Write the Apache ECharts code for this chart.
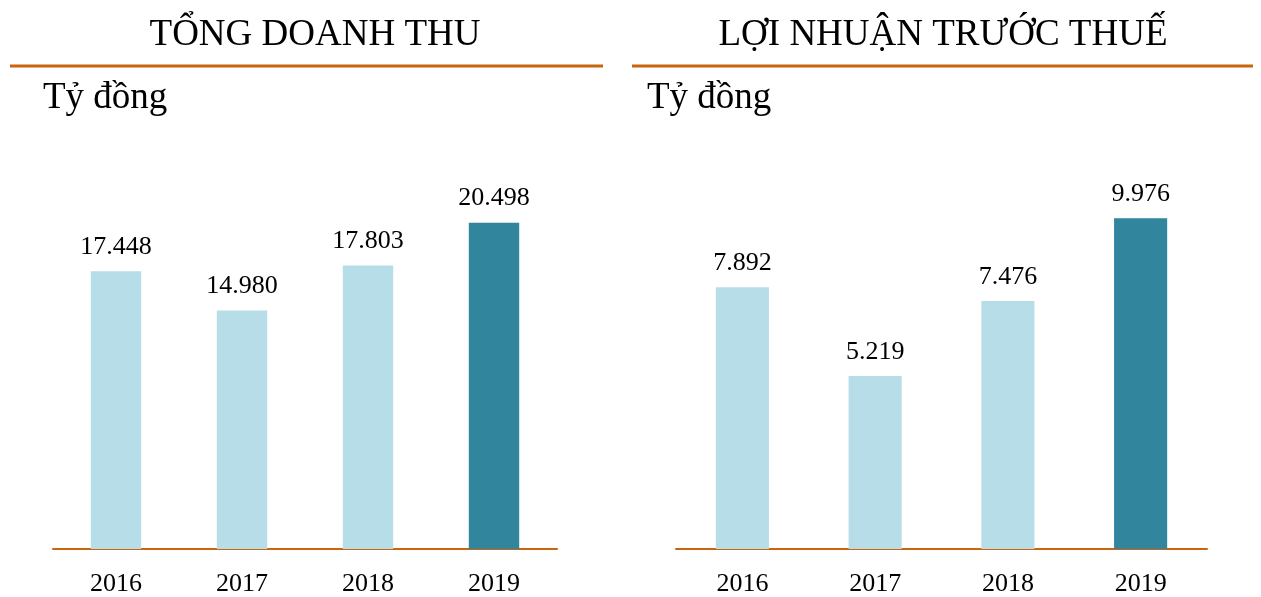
<!DOCTYPE html>
<html>
<head>
<meta charset="utf-8">
<script src="https://cdn.jsdelivr.net/npm/echarts@6/dist/echarts.min.js"></script>
<style>
  html, body { margin: 0; padding: 0; background: #fff; }
  #chart { width: 1261px; height: 597px; }
</style>
</head>
<body>
<div id="chart"></div>
<script>
// data
const years = ['2016', '2017', '2018', '2019'];
const revenue = [17448, 14980, 17803, 20498];
const profit = [7892, 5219, 7476, 9976];
const titles = ['TỔNG DOANH THU', 'LỢI NHUẬN TRƯỚC THUẾ'];
const unitLabel = 'Tỷ đồng';

const LIGHT = '#b7dde8';
const DARK = '#31859c';
const ORANGE = '#c8650d';
const FONT = '"Liberation Serif", "Times New Roman", serif';

const chart = echarts.init(document.getElementById('chart'));

const fmt = v => v.toLocaleString('de-DE');

function barData(values) {
  return values.map((v, i) => ({
    value: v,
    itemStyle: { color: i === values.length - 1 ? DARK : LIGHT }
  }));
}

function xAxis(gridIndex) {
  return {
    type: 'category',
    gridIndex: gridIndex,
    data: years,
    axisTick: { show: false },
    axisLine: { lineStyle: { color: ORANGE, width: 2 } },
    axisLabel: { color: '#000', fontFamily: FONT, fontSize: 26, margin: 22 }
  };
}

function yAxis(gridIndex, max) {
  return {
    type: 'value',
    gridIndex: gridIndex,
    min: 0,
    max: max,
    show: false,
    splitLine: { show: false }
  };
}

function series(idx, values) {
  return {
    type: 'bar',
    xAxisIndex: idx,
    yAxisIndex: idx,
    barWidth: '40%',
    data: barData(values),
    label: {
      show: true,
      position: 'top',
      distance: 11,
      color: '#000',
      fontFamily: FONT,
      fontSize: 26,
      formatter: p => fmt(p.value)
    }
  };
}

const textStyle = { fontFamily: FONT, fontSize: 37, fontWeight: 'normal', color: '#000' };

const option = {
  animation: false,
  title: [
    { text: titles[0], left: 315, top: 17, padding: 0, textAlign: 'center', textStyle: textStyle },
    { text: titles[1], left: 943, top: 17, padding: 0, textAlign: 'center', textStyle: textStyle },
    { text: unitLabel, left: 43, top: 80, padding: 0, textStyle: textStyle },
    { text: unitLabel, left: 647, top: 80, padding: 0, textStyle: textStyle }
  ],
  graphic: [
    { type: 'line', shape: { x1: 10, y1: 66, x2: 603, y2: 66 }, style: { stroke: ORANGE, lineWidth: 3 } },
    { type: 'line', shape: { x1: 632, y1: 66, x2: 1253, y2: 66 }, style: { stroke: ORANGE, lineWidth: 3 } }
  ],
  grid: [
    { left: 53, width: 504, top: 151, height: 400 },
    { left: 676, width: 531, top: 151, height: 400 }
  ],
  xAxis: [xAxis(0), xAxis(1)],
  yAxis: [yAxis(0, 25000), yAxis(1, 12000)],
  series: [series(0, revenue), series(1, profit)]
};

chart.setOption(option);
window.addEventListener('resize', () => chart.resize());
</script>
</body>
</html>
